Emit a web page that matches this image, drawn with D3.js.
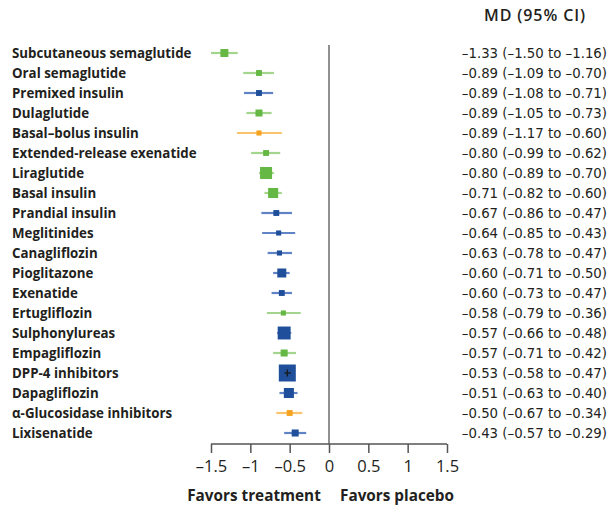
<!DOCTYPE html>
<html>
<head>
<meta charset="utf-8">
<script src="https://cdn.jsdelivr.net/npm/d3@7"></script>
<style>
  body { margin: 0; background: #fff; }
  text { font-family: "Open Sans", sans-serif; fill: #231f20; }
</style>
</head>
<body>
<div id="chart"></div>
<script>
// treatments, mean difference vs placebo and 95% CI
var treatments = [
  "Subcutaneous semaglutide", "Oral semaglutide", "Premixed insulin", "Dulaglutide",
  "Basal–bolus insulin", "Extended-release exenatide", "Liraglutide", "Basal insulin",
  "Prandial insulin", "Meglitinides", "Canagliflozin", "Pioglitazone", "Exenatide",
  "Ertugliflozin", "Sulphonylureas", "Empagliflozin", "DPP-4 inhibitors",
  "Dapagliflozin", "α-Glucosidase inhibitors", "Lixisenatide"
];
var md = [-1.33, -0.89, -0.89, -0.89, -0.89, -0.80, -0.80, -0.71, -0.67, -0.64,
          -0.63, -0.60, -0.60, -0.58, -0.57, -0.57, -0.53, -0.51, -0.50, -0.43];
var ciLow = [-1.50, -1.09, -1.08, -1.05, -1.17, -0.99, -0.89, -0.82, -0.86, -0.85,
             -0.78, -0.71, -0.73, -0.79, -0.66, -0.71, -0.58, -0.63, -0.67, -0.57];
var ciHigh = [-1.16, -0.70, -0.71, -0.73, -0.60, -0.62, -0.70, -0.60, -0.47, -0.43,
              -0.47, -0.50, -0.47, -0.36, -0.48, -0.42, -0.47, -0.40, -0.34, -0.29];
// certainty of evidence (drives colour)
var certainty = ["high", "high", "moderate", "high", "low", "high", "high", "high",
                 "moderate", "moderate", "moderate", "moderate", "moderate", "high",
                 "moderate", "high", "moderate", "moderate", "low", "moderate"];
// relative weight (drives marker area)
var weights = [22, 12, 12, 17, 9, 12, 50, 35, 12, 9, 9, 28, 12, 9, 58, 17, 100, 35, 12, 17];
var xTicks = [-1.5, -1, -0.5, 0, 0.5, 1, 1.5];

var width = 612, height = 506;

var svg = d3.select("#chart").append("svg")
    .attr("width", width)
    .attr("height", height);

var x = d3.scaleLinear().domain([-1.5, 1.5]).range([211, 447]);
var y = d3.scaleBand().domain(treatments).range([43, 443]);
var size = d3.scaleSqrt().domain([0, 100]).range([0, 17]);

var fill = { high: "#66b845", moderate: "#1f4e9b", low: "#f5a31e" };
var light = { high: "#a3d58c", moderate: "#5f83c4", low: "#fac46c" };

var dash = function(s) { return s.replace("-", "–").replace("−", "–"); };
var fmt = function(v) { return dash(d3.format(".2f")(v)); };

var rows = treatments.map(function(t, i) {
  return { name: t, md: md[i], lo: ciLow[i], hi: ciHigh[i], cert: certainty[i], w: weights[i] };
});

// header
svg.append("text")
    .attr("x", 535)
    .attr("y", 20.5)
    .attr("text-anchor", "middle")
    .style("font-weight", 600)
    .style("font-size", "16px")
    .style("letter-spacing", "0.9px")
    .text("MD (95% CI)");

// zero line
svg.append("line")
    .attr("x1", x(0)).attr("x2", x(0))
    .attr("y1", 45).attr("y2", 444)
    .attr("stroke", "#555")
    .attr("stroke-width", 1.3);

var row = svg.selectAll(".row")
    .data(rows)
  .enter().append("g")
    .attr("class", "row")
    .attr("transform", function(d) { return "translate(0," + (y(d.name) + y.bandwidth() / 2) + ")"; });

row.append("text")
    .attr("x", 12)
    .attr("dy", "0.35em")
    .style("font-weight", 700)
    .style("font-size", "13.3px")
    .text(function(d) { return d.name; });

row.append("line")
    .attr("x1", function(d) { return x(d.lo); })
    .attr("x2", function(d) { return x(d.hi); })
    .attr("stroke", function(d) { return light[d.cert]; })
    .attr("stroke-width", 2.2);

row.append("rect")
    .attr("x", function(d) { return x(d.md) - size(d.w) / 2; })
    .attr("y", function(d) { return -size(d.w) / 2; })
    .attr("width", function(d) { return size(d.w); })
    .attr("height", function(d) { return size(d.w); })
    .attr("fill", function(d) { return fill[d.cert]; });

// CI hidden inside the square: draw it dark on top
var inner = row.filter(function(d) { return x(d.hi) - x(d.lo) < size(d.w); });
inner.append("line")
    .attr("x1", function(d) { return x(d.lo) + 1; })
    .attr("x2", function(d) { return x(d.hi) - 1; })
    .attr("stroke", "#1a1a1a")
    .attr("stroke-width", 1.3);
inner.append("line")
    .attr("x1", function(d) { return x(d.md); })
    .attr("x2", function(d) { return x(d.md); })
    .attr("y1", -3.5).attr("y2", 3.5)
    .attr("stroke", "#1a1a1a")
    .attr("stroke-width", 1.3);

row.append("text")
    .attr("x", 607)
    .attr("dy", "0.36em")
    .attr("text-anchor", "end")
    .style("font-family", "'DejaVu Sans', sans-serif")
    .style("font-size", "13.3px")
    .text(function(d) { return fmt(d.md) + " (" + fmt(d.lo) + " to " + fmt(d.hi) + ")"; });

// x axis
var axis = svg.append("g")
    .attr("transform", "translate(0,444)")
    .call(d3.axisBottom(x)
      .tickValues(xTicks)
      .tickSize(9)
      .tickPadding(7)
      .tickFormat(function(d) { return dash(d3.format("")(d)); }));

axis.select(".domain")
    .attr("d", "M" + x(-1.5) + ",0H" + x(1.5))
    .attr("stroke", "#555")
    .attr("stroke-width", 1.5);
axis.selectAll(".tick line")
    .attr("stroke", "#555")
    .attr("stroke-width", 1.5);
axis.selectAll(".tick text")
    .style("font-family", "'Open Sans', sans-serif")
    .style("font-size", "16.5px")
    .style("font-weight", 500)
    .attr("fill", "#231f20");

svg.append("text")
    .attr("x", 254)
    .attr("y", 500.5)
    .attr("text-anchor", "middle")
    .style("font-weight", 700)
    .style("font-size", "15.3px")
    .text("Favors treatment");

svg.append("text")
    .attr("x", 397)
    .attr("y", 500.5)
    .attr("text-anchor", "middle")
    .style("font-weight", 700)
    .style("font-size", "15.3px")
    .text("Favors placebo");
</script>
</body>
</html>
